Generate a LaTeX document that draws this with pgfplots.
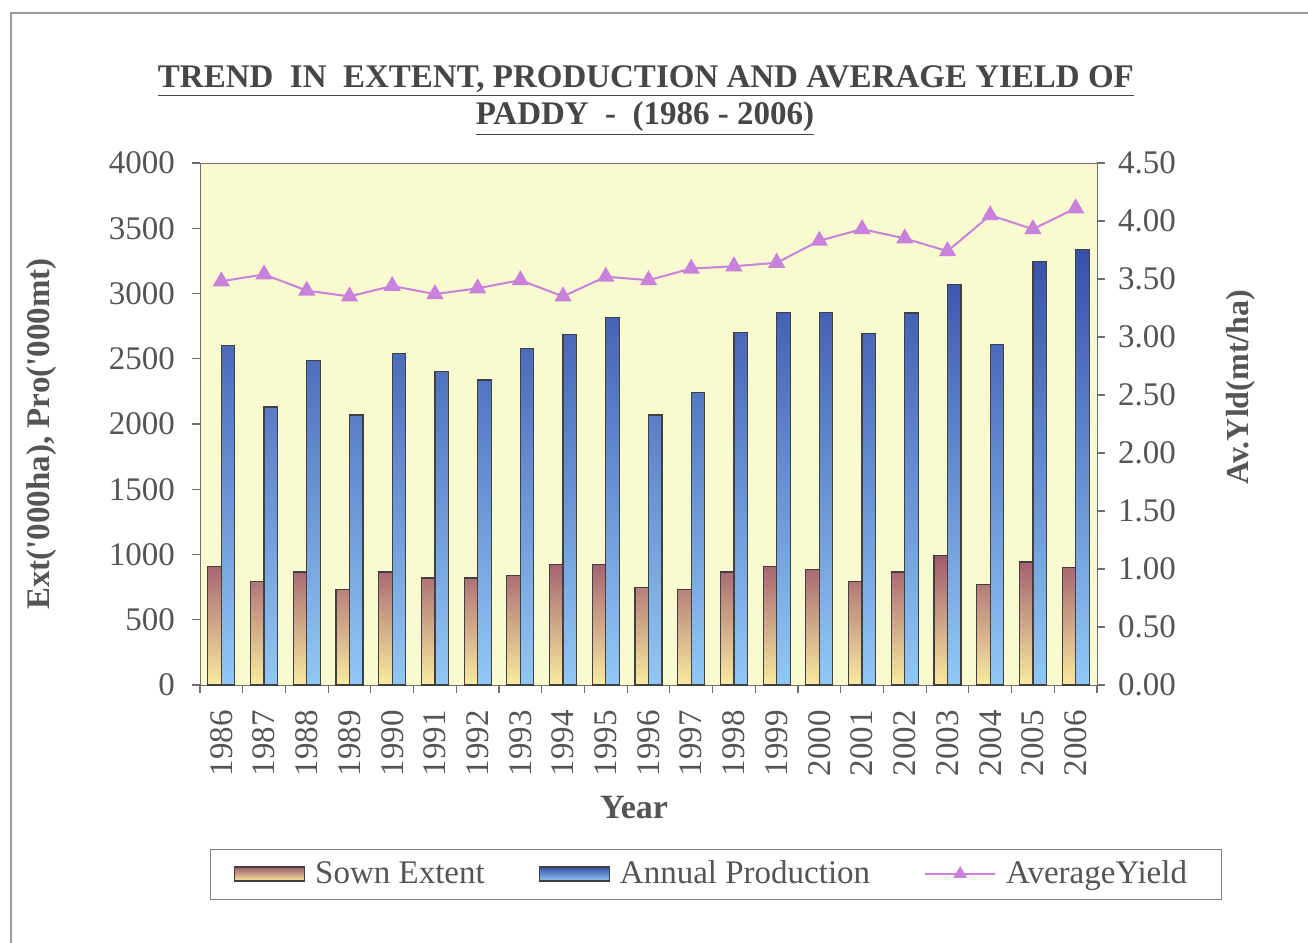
\documentclass[border=0pt]{standalone}
\usepackage{fontspec}
\setmainfont{Liberation Serif}
\usepackage{pgfplots}
\pgfplotsset{compat=1.18}

\definecolor{txt}{RGB}{85,85,85}
\definecolor{ttl}{RGB}{70,70,70}
\definecolor{bgyel}{RGB}{250,250,208}
\definecolor{sownTop}{RGB}{160,90,110}
\definecolor{sownBot}{RGB}{250,236,160}
\definecolor{prodTop}{RGB}{55,80,170}
\definecolor{prodBot}{RGB}{145,200,245}
\definecolor{yld}{RGB}{200,130,220}
\definecolor{axl}{RGB}{110,110,110}

\newcommand\tk{\fontsize{16.5}{19}\selectfont}

\pgfplotsset{
  sownstyle/.style={draw=black!75, line width=0.6pt, top color=sownTop, bottom color=sownBot},
  prodstyle/.style={draw=black!75, line width=0.6pt, top color=prodTop, bottom color=prodBot},
  barlegend/.style={legend image code/.code={\draw[##1] (0pt,-3.5pt) rectangle (35pt,3.5pt);}},
  linelegend/.style={legend image code/.code={\draw[##1, mark repeat=2, mark phase=2, mark size=3pt] plot coordinates {(0pt,0pt) (17.5pt,0pt) (35pt,0pt)};}},
  common/.style={
    at={(100pt,-342.5pt)}, anchor=south west,
    scale only axis, width=448.5pt, height=261pt,
    xmin=-0.5, xmax=20.5,
    tick align=outside, major tick length=4pt, minor tick length=4pt,
    axis line style={axl}, tick style={axl, line width=0.6pt},
    ticklabel style={font=\tk, text=txt},
    /pgf/number format/assume math mode=true,
    /pgf/number format/1000 sep={},
  }
}

\begin{document}
\begin{tikzpicture}
\useasboundingbox (0,0) rectangle (654pt,-471.5pt);
\fill[white] (0,0) rectangle (654pt,-471.5pt);
\draw[gray!80, line width=0.8pt] (5.5pt,-471.5pt) -- (5.5pt,-6.5pt) -- (654pt,-6.5pt);

\begin{axis}[
  common,
  ymin=0, ymax=4000,
  tick pos=left,
  ytick={0,500,...,4000},
  yticklabel shift=5pt,
  xtick={0,...,20},
  xticklabels={1986,1987,1988,1989,1990,1991,1992,1993,1994,1995,1996,1997,1998,1999,2000,2001,2002,2003,2004,2005,2006},
  xticklabel shift=5pt,
  major x tick style={draw=none},
  minor xtick={-0.5,0.5,...,20.5},
  x tick label style={rotate=90, anchor=east},
  axis background/.style={fill=bgyel},
  ybar=0pt, bar width=6.75pt,
]
\addplot[sownstyle] coordinates {
(0,907) (1,794) (2,866) (3,732) (4,866) (5,820) (6,820) (7,839) (8,925) (9,925)
(10,750) (11,732) (12,866) (13,907) (14,888) (15,791) (16,866) (17,993) (18,772) (19,942) (20,901)};
\addplot[prodstyle] coordinates {
(0,2601) (1,2130) (2,2486) (3,2069) (4,2539) (5,2405) (6,2338) (7,2580) (8,2687) (9,2816)
(10,2069) (11,2243) (12,2701) (13,2857) (14,2857) (15,2695) (16,2851) (17,3072) (18,2609) (19,3247) (20,3336)};
\end{axis}

\begin{axis}[
  common,
  ymin=0, ymax=4.5,
  axis y line*=right, axis x line=none,
  ytick={0,0.5,...,4.5},
  yticklabel shift=3pt,
  yticklabel style={/pgf/number format/.cd, fixed, fixed zerofill, precision=2},
  legend columns=3,
  legend style={at={(0.5747,-0.362)}, anchor=center, draw=gray, fill=white,
    font=\tk, text=txt, inner xsep=12pt, inner ysep=4pt,
    nodes={inner xsep=5pt},
    /tikz/every even column/.append style={column sep=22pt}},
]
\addlegendimage{sownstyle, barlegend}
\addlegendentry{Sown Extent}
\addlegendimage{prodstyle, barlegend}
\addlegendentry{Annual Production}
\addplot[yld, line width=1pt, mark=triangle*, mark size=4pt, mark options={fill=yld, draw=yld}, linelegend]
coordinates {
(0,3.48) (1,3.54) (2,3.40) (3,3.35) (4,3.44) (5,3.37) (6,3.42) (7,3.49) (8,3.35) (9,3.52)
(10,3.49) (11,3.59) (12,3.61) (13,3.64) (14,3.83) (15,3.93) (16,3.85) (17,3.74) (18,4.05) (19,3.93) (20,4.11)};
\addlegendentry{AverageYield}
\end{axis}

\node[font=\fontsize{16.5}{19}\selectfont\bfseries, text=ttl] at (323pt,-40.5pt) {\underline{TREND\ \ IN\ \ EXTENT, PRODUCTION AND AVERAGE YIELD OF}};
\node[font=\fontsize{16.5}{19}\selectfont\bfseries, text=ttl] at (322.5pt,-59.5pt) {\underline{PADDY\ \ -\ \ (1986 - 2006)}};
\node[font=\fontsize{16.5}{19}\selectfont\bfseries, text=txt, rotate=90] at (21pt,-217pt) {Ext(\textquotesingle000ha), Pro(\textquotesingle000mt)};
\node[font=\fontsize{16}{19}\selectfont\bfseries, text=txt, rotate=90] at (620.5pt,-193.5pt) {Av.Yld(mt/ha)};
\node[font=\fontsize{17}{20}\selectfont\bfseries, text=txt] at (317pt,-404pt) {Year};
\end{tikzpicture}
\end{document}
